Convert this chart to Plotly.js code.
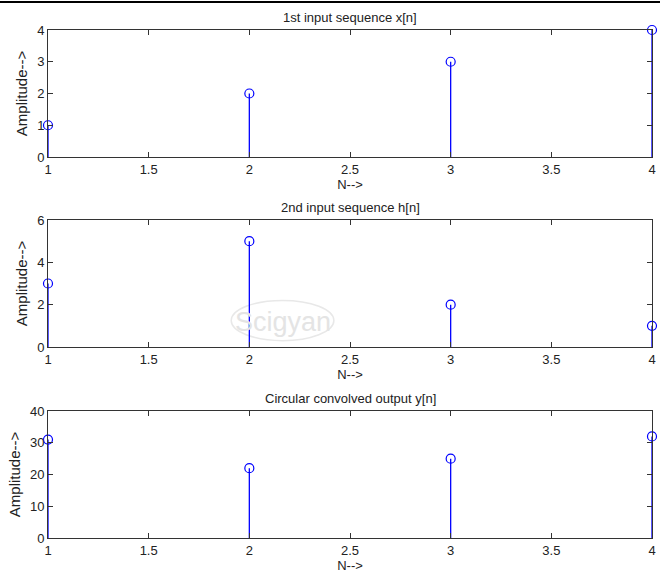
<!DOCTYPE html>
<html>
<head>
<meta charset="utf-8">
<script src="https://cdn.plot.ly/plotly-3.0.1.min.js"></script>
<style>
html,body{margin:0;padding:0;background:#fff;}
#wrap{position:relative;width:660px;height:578px;}
#topline{position:absolute;left:0;top:1px;width:660px;height:2px;background:#000;z-index:5;}
#chart{width:660px;height:578px;}
</style>
</head>
<body>
<div id="wrap"><div id="topline"></div><div id="chart"></div></div>
<script>
const n = [1, 2, 3, 4];
const xSeq = [1, 2, 3, 4];
const hSeq = [3, 5, 2, 1];
const ySeq = [31, 22, 25, 32];

const titles = ['1st input sequence x[n]', '2nd input sequence h[n]', 'Circular convolved output y[n]'];
const yRanges = [[0, 4], [0, 6], [0, 40]];
const yDtick = [1, 2, 10];
const xTicks = [1, 1.5, 2, 2.5, 3, 3.5, 4];
const xTickText = ['1', '1.5', '2', '2.5', '3', '3.5', '4'];

const blue = '#0000ff';
const fam = 'Liberation Sans, Arial, sans-serif';
const font = {family: fam, size: 13, color: '#222'};
const yTitleFont = {family: fam, size: 15, color: '#222'};
const series = [xSeq, hSeq, ySeq];
const suffix = ['', '2', '3'];

const traces = series.map((vals, i) => ({
  type: 'scatter', mode: 'markers',
  x: n, y: vals,
  xaxis: 'x' + suffix[i], yaxis: 'y' + suffix[i],
  marker: {symbol: 'circle-open', size: 9, color: blue, line: {width: 1.2, color: blue}},
  error_y: {type: 'data', symmetric: false, array: vals.map(() => 0), arrayminus: vals, width: 0, thickness: 1.3, color: blue},
  cliponaxis: false, showlegend: false, hoverinfo: 'x+y'
}));

const domains = [[0.75, 1.0], [0.376, 0.626], [0, 0.25]];
const layout = {
  width: 660, height: 578,
  margin: {l: 48, r: 8, t: 30, b: 40},
  paper_bgcolor: '#fff', plot_bgcolor: '#fff',
  font: font, showlegend: false,
  annotations: [], shapes: []
};
domains.forEach((d, i) => {
  const xa = {
    domain: [0, 1], range: [1, 4], anchor: 'y' + suffix[i],
    tickmode: 'array', tickvals: xTicks, ticktext: xTickText,
    ticks: 'inside', ticklen: 5, tickcolor: '#333', tickwidth: 1,
    showline: true, linecolor: '#333', linewidth: 1, mirror: 'ticks',
    showgrid: false, zeroline: false, tickfont: font,
    title: {text: 'N-->', font: font, standoff: 1}, automargin: false
  };
  const ya = {
    domain: d, range: yRanges[i], anchor: 'x' + suffix[i],
    dtick: yDtick[i], tick0: 0,
    ticks: 'inside', ticklen: 5, tickcolor: '#333', tickwidth: 1,
    showline: true, linecolor: '#333', linewidth: 1, mirror: 'ticks',
    showgrid: false, zeroline: false, tickfont: font,
    title: {text: 'Amplitude-->', font: yTitleFont, standoff: 5}, automargin: false
  };
  layout['xaxis' + suffix[i]] = xa;
  layout['yaxis' + suffix[i]] = ya;
  layout.annotations.push({
    text: titles[i], xref: 'paper', yref: 'paper', x: 0.5, y: d[1],
    yshift: 3, xanchor: 'center', yanchor: 'bottom', showarrow: false, font: font
  });
});
// watermark
layout.annotations.push({
  text: 'Scigyan', xref: 'x2', yref: 'y2', x: 2.165, y: 1.2, showarrow: false,
  font: {family: fam, size: 27, color: '#e4e4e4'}
});
layout.shapes.push({
  type: 'circle', xref: 'x2', yref: 'y2', x0: 1.91, x1: 2.42, y0: 0.3, y1: 2.2,
  line: {color: '#e8e8e8', width: 1.5}, layer: 'below'
});

Plotly.newPlot('chart', traces, layout, {staticPlot: true});
</script>
</body>
</html>
